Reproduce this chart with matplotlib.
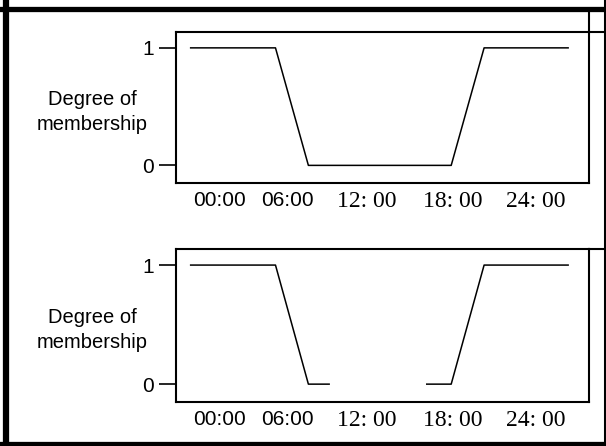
import matplotlib
matplotlib.use("Agg")
import matplotlib.pyplot as plt
from matplotlib.lines import Line2D
from matplotlib.patches import Rectangle

# time axis in hours, membership values 0..1
tick_pos = [0, 5.15, 11.2, 17.7, 24]
tick_text = ["00:00", "06:00", "12: 00", "18: 00", "24: 00"]
tick_fonts = ["Liberation Sans", "Liberation Sans", "Liberation Serif", "Liberation Serif", "Liberation Serif"]

# top panel: one trapezoid (night)
top_x = [-2.15, 4.27, 6.76, 17.57, 20.06, 26.42]
top_y = [1, 1, 0, 0, 1, 1]

# bottom panel: same shape, but middle of the day left out
bot_x1 = [-2.15, 4.27, 6.76, 8.33]
bot_y1 = [1, 1, 0, 0]
bot_x2 = [15.72, 17.57, 20.06, 26.42]
bot_y2 = [0, 0, 1, 1]

W, H = 606, 446
fig = plt.figure(figsize=(W / 100, H / 100), dpi=100)


def fx(px):
    return px / W


def fy(py):
    return 1 - py / H


def make_axes(top, bottom):
    ax = fig.add_axes([fx(176), fy(bottom), fx(589) - fx(176), fy(top) - fy(bottom)])
    ax.set_xlim(-3.26, 28.0)
    ax.set_ylim(-0.15, 1.135)
    for s in ax.spines.values():
        s.set_linewidth(1.5)
    ax.set_yticks([0, 1])
    ax.set_yticklabels(["0", "1"], fontsize=15, family="Liberation Sans")
    ax.tick_params(axis="y", length=12, width=1.2, pad=4)
    ax.set_xticks(tick_pos)
    ax.set_xticklabels(tick_text)
    ax.tick_params(axis="x", length=0, pad=6)
    labels = ax.get_xticklabels()
    for lbl, fam in zip(labels, tick_fonts):
        lbl.set_family(fam)
        lbl.set_fontsize(15 if fam == "Liberation Sans" else 17)
    # last label is cut off at the right in the original
    labels[-1].set_clip_path(Rectangle((0, 0), fx(567), 1, transform=fig.transFigure))
    labels[-1].set_clip_on(True)
    ax.set_ylabel("Degree of\nmembership", rotation=0, ha="center", va="center",
                  fontsize=14.5, family="Liberation Sans", linespacing=1.35)
    ax.yaxis.set_label_coords(-0.203, 0.47)
    return ax


ax1 = make_axes(32, 183)
ax1.plot(top_x, top_y, color="black", lw=1.1)

ax2 = make_axes(249, 402)
ax2.plot(bot_x1, bot_y1, color="black", lw=1.1)
ax2.plot(bot_x2, bot_y2, color="black", lw=1.1)

# extra lines of the scanned layout
lines = [
    ([fx(589), fx(606)], [fy(32), fy(32)], 1.5),
    ([fx(589), fx(589)], [fy(32), fy(9)], 1.5),
    ([fx(589), fx(606)], [fy(249), fy(249)], 1.5),
    # outer frame
    ([fx(6), fx(6)], [fy(0), fy(446)], 4.5),
    ([fx(0), fx(606)], [fy(8.5), fy(8.5)], 3.8),
    ([fx(0), fx(606)], [fy(443.5), fy(443.5)], 3.8),
    ([fx(604.5), fx(604.5)], [fy(0), fy(446)], 2.2),
]
for xs, ys, lw in lines:
    fig.add_artist(Line2D(xs, ys, color="black", lw=lw, transform=fig.transFigure))

fig.savefig("out.png", dpi=100)
